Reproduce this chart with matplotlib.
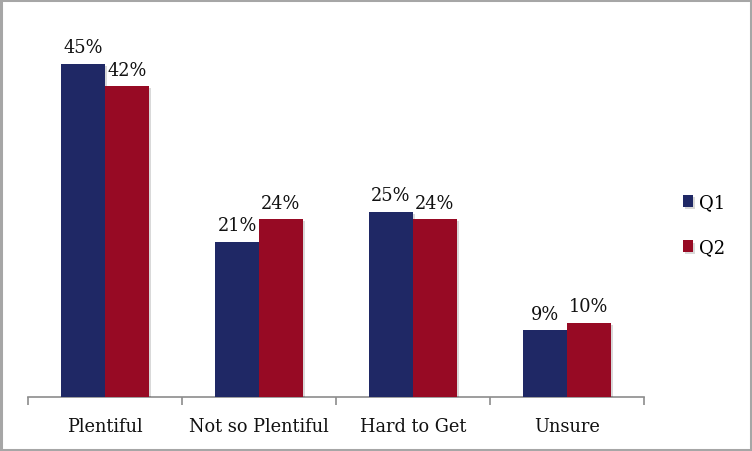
import matplotlib.pyplot as plt
import matplotlib.patheffects as pe
import numpy as np

categories = ["Plentiful", "Not so Plentiful", "Hard to Get", "Unsure"]
series_names = ["Q1", "Q2"]
q1_values = [0.45, 0.21, 0.25, 0.09]
q2_values = [0.42, 0.24, 0.24, 0.10]

colors = ["#1F2865", "#970A24"]

plt.rcParams['font.family'] = ['DejaVu Serif']

fig = plt.figure(figsize=(7.52, 4.52), dpi=100)
ax = fig.add_axes([28 / 752, 54 / 452, 616 / 752, 370 / 452])

x = np.arange(len(categories))
w = 0.2857
shadow = [pe.SimplePatchShadow(offset=(1.5, -1.5), shadow_rgbFace="#000000", alpha=0.15), pe.Normal()]

for i, (name, vals) in enumerate(zip(series_names, [q1_values, q2_values])):
    pos = x + (i - 0.5) * w
    bars = ax.bar(pos, vals, width=w, color=colors[i], label=name, zorder=3)
    for b in bars:
        b.set_path_effects(shadow)
    for p, v in zip(pos, vals):
        ax.annotate(f"{v * 100:.0f}%", (p, v), xytext=(0, 5.5), textcoords="offset points",
                    ha="center", va="bottom", fontsize=12.8, color="#111111")

ax.set_xlim(-0.5, len(categories) - 0.5)
ax.set_ylim(0, 0.5)
ax.set_yticks([])
for s in ["top", "right", "left"]:
    ax.spines[s].set_visible(False)
ax.spines["bottom"].set_color("#8C8C8C")
ax.spines["bottom"].set_linewidth(1.2)

ax.set_xticks(np.arange(len(categories) + 1) - 0.5)
ax.set_xticklabels([])
ax.set_xticks(x, minor=True)
ax.set_xticklabels(categories, minor=True, fontsize=12.8, color="#111111")
ax.tick_params(axis="x", which="major", length=6, color="#8C8C8C", width=1.2)
ax.tick_params(axis="x", which="minor", length=0, pad=14.5)

ax.legend(loc="center left", bbox_to_anchor=(676 / 752, 0.5), bbox_transform=fig.transFigure,
          frameon=False, fontsize=13, handlelength=0.55, handleheight=0.6, handletextpad=0.3,
          labelspacing=1.5, borderaxespad=0)

border = plt.Rectangle((0.0015, 0.0025), 0.997, 0.995, transform=fig.transFigure,
                       fill=False, edgecolor="#A6A6A6", linewidth=2.2)
fig.add_artist(border)

fig.savefig("out.png", dpi=100)
